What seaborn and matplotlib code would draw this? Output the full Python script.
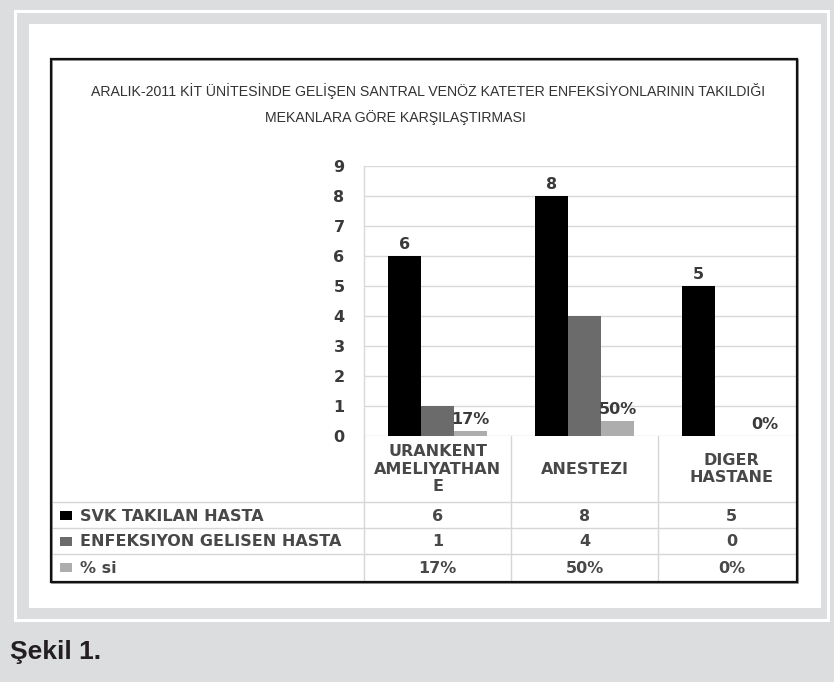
import matplotlib
matplotlib.use("Agg")
import matplotlib.pyplot as plt
from matplotlib import font_manager
from matplotlib.patches import Rectangle
from matplotlib.lines import Line2D
from matplotlib.transforms import Affine2D, blended_transform_factory
import seaborn as sns
import pandas as pd

# ---- data ---------------------------------------------------------------
title_lines = [
    "ARALIK-2011 KİT ÜNİTESİNDE GELİŞEN SANTRAL VENÖZ KATETER ENFEKSİYONLARININ TAKILDIĞI",
    "MEKANLARA GÖRE KARŞILAŞTIRMASI",
]
categories = ["URANKENT\nAMELIYATHAN\nE", "ANESTEZI", "DIGER\nHASTANE"]
series_names = ["SVK TAKILAN HASTA", "ENFEKSIYON GELISEN HASTA", "% si"]
svk_takilan = [6, 8, 5]
enfeksiyon_gelisen = [1, 4, 0]
yuzde = [17, 50, 0]
y_ticks = [0, 1, 2, 3, 4, 5, 6, 7, 8, 9]
caption = "Şekil 1."

colors = ["#000000", "#6b6b6b", "#adadad"]


def pick_font(*names):
    for name in names:
        try:
            font_manager.findfont(font_manager.FontProperties(family=name),
                                  fallback_to_default=False)
            return name
        except ValueError:
            continue
    return "DejaVu Sans"


sns.set_theme(style="white")
body_font = "DejaVu Sans"
title_font = pick_font("Liberation Sans", "Arial")
caption_font = pick_font("Liberation Sans Narrow", "Liberation Sans")
plt.rcParams["font.family"] = [body_font]

W, H, DPI = 834, 682, 100
fig = plt.figure(figsize=(W / DPI, H / DPI), dpi=DPI)
fig.patch.set_facecolor("#dcdddf")

# pixel coordinates with the origin at the top-left corner
px = Affine2D().scale(1 / W, -1 / H).translate(0, 1) + fig.transFigure


def rect(x0, y0, x1, y1, **kw):
    r = Rectangle((x0, y0), x1 - x0, y1 - y0, transform=px, **kw)
    fig.add_artist(r)
    return r


def hline(y, x0, x1, **kw):
    fig.add_artist(Line2D([x0, x1], [y, y], transform=px, **kw))


# page frame
rect(14, 10, 830, 622, facecolor="white", edgecolor="none", zorder=-10)
rect(17, 13, 827, 619, facecolor="#dcdddf", edgecolor="none", zorder=-9)
rect(29, 24, 821, 608, facecolor="white", edgecolor="none", zorder=-8)

# ---- bar chart ------------------------------------------------------------
AX_L, AX_R, AX_T, AX_B = 364, 797, 165.7, 436
ax = fig.add_axes([AX_L / W, 1 - AX_B / H, (AX_R - AX_L) / W, (AX_B - AX_T) / H])
ax.set_facecolor("none")

df = pd.DataFrame({
    "kategori": categories * 3,
    "seri": [s for s in series_names for _ in categories],
    "deger": svk_takilan + enfeksiyon_gelisen + [p / 100 for p in yuzde],
})
sns.barplot(data=df, x="kategori", y="deger", hue="seri", order=categories,
            hue_order=series_names, palette=colors, saturation=1, width=0.673,
            errorbar=None, legend=False, linewidth=0, ax=ax)

cat_step = 147.0
ax.set_xlim(-0.5, (AX_R - AX_L) / cat_step - 0.5)
ax.set_ylim(0, 9)
ax.set_yticks(y_ticks)
ax.set_xticks([])
ax.set_xlabel("")
ax.set_ylabel("")
ax.set_axisbelow(True)
ax.yaxis.grid(True, color="#d9d9d9", linewidth=1.0)
for side in ("top", "right", "bottom"):
    ax.spines[side].set_visible(False)
ax.spines["left"].set_color("#d9d9d9")
ax.spines["left"].set_linewidth(1.0)
ax.tick_params(axis="y", length=0, pad=14, labelsize=11.5, labelcolor="#3a3a3a")
for lab in ax.get_yticklabels():
    lab.set_fontweight("bold")

svk_bars, enf_bars, pct_bars = ax.containers
ax.bar_label(svk_bars, labels=[str(v) for v in svk_takilan], padding=3,
             fontsize=11.5, fontweight="bold", color="#3a3a3a")
ax.bar_label(pct_bars, labels=[f"{p}%" for p in yuzde], padding=3,
             fontsize=11.5, fontweight="bold", color="#3a3a3a")

# ---- data table below the chart -------------------------------------------
blend = blended_transform_factory(ax.transData, px)
BOX_L, BOX_R, BOX_T, BOX_B = 51, 797, 59, 582
row_lines = [502, 528, 554]
row_centers = [515.5, 541, 567.5]
grid_c = "#d6d6d6"

for y in row_lines:
    hline(y, BOX_L, BOX_R, color=grid_c, lw=1.0)
for xb in (-0.5, 0.5, 1.5):
    fig.add_artist(Line2D([xb, xb], [AX_B, BOX_B], transform=blend,
                          color=grid_c, lw=1.0))

for i, cat in enumerate(categories):
    fig.text(i, 469, cat, transform=blend, ha="center", va="center",
             fontsize=11.5, fontweight="bold", color="#484848", linespacing=1.22)

rows = [
    [str(v) for v in svk_takilan],
    [str(v) for v in enfeksiyon_gelisen],
    [f"{p}%" for p in yuzde],
]
for r, (name, vals) in enumerate(zip(series_names, rows)):
    yc = row_centers[r]
    rect(60, yc - 4.5, 72, yc + 4.5, facecolor=colors[r], edgecolor="none", zorder=3)
    fig.text(80, yc + 1, name, transform=px, ha="left", va="center",
             fontsize=11.5, fontweight="bold", color="#484848")
    for i, v in enumerate(vals):
        fig.text(i, yc + 1, v, transform=blend, ha="center", va="center",
                 fontsize=11.5, fontweight="bold", color="#484848")

# chart border with a soft shadow
rect(BOX_L + 1.2, BOX_T + 1.2, BOX_R + 1.2, BOX_B + 1.2, fill=False,
     edgecolor="#8a8a8a", lw=1.2, zorder=5)
rect(BOX_L, BOX_T, BOX_R, BOX_B, fill=False, edgecolor="#111111", lw=1.6, zorder=6)

# ---- titles -------------------------------------------------------------
fig.text(428, 91, title_lines[0], transform=px, ha="center", va="center",
         fontsize=10.2, family=title_font, color="#333333")
fig.text(395, 118, title_lines[1], transform=px, ha="center", va="center",
         fontsize=10.2, family=title_font, color="#333333")

fig.text(10, 659, caption, transform=px, ha="left", va="baseline",
         fontsize=19, fontweight="bold", family=caption_font, color="#231f20")

fig.savefig("out.png", dpi=DPI, facecolor=fig.get_facecolor())
